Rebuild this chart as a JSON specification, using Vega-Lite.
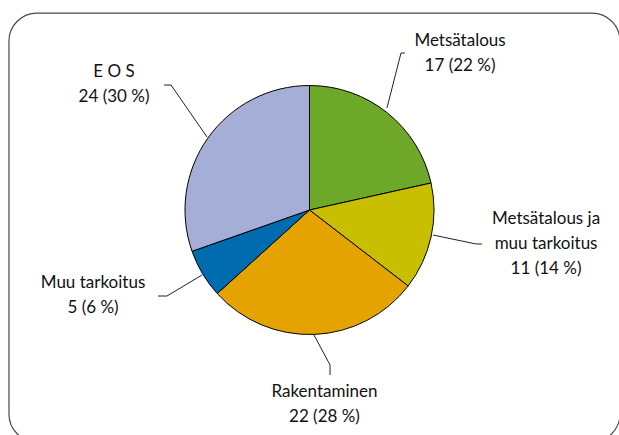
{
  "$schema": "https://vega.github.io/schema/vega-lite/v6.json",
  "width": 619,
  "height": 420,
  "autosize": "none",
  "padding": {"left": 0, "top": 0, "right": 0, "bottom": 15},
  "background": "white",
  "view": {"stroke": null},
  "config": {"font": "Lato"},
  "datasets": {
    "slices": [
      {"cat": "Metsätalous", "n": 17, "ord": 1},
      {"cat": "Metsätalous ja muu tarkoitus", "n": 11, "ord": 2},
      {"cat": "Rakentaminen", "n": 22, "ord": 3},
      {"cat": "Muu tarkoitus", "n": 5, "ord": 4},
      {"cat": "E O S", "n": 24, "ord": 5}
    ],
    "labels": [
      {"label": "Metsätalous\n17 (22 %)", "x": 1.209, "y": 1.357},
      {"label": "Metsätalous ja\nmuu tarkoitus\n11 (14 %)", "x": 1.9, "y": -0.072},
      {"label": "Rakentaminen\n22 (28 %)", "x": 0.12, "y": -1.462},
      {"label": "Muu tarkoitus\n5 (6 %)", "x": -1.739, "y": -0.586},
      {"label": "E O S\n24 (30 %)", "x": -1.57, "y": 1.108}
    ],
    "leaders": [
      {"g": "a", "i": 1, "x": 0.767, "y": 1.261},
      {"g": "a", "i": 2, "x": 0.735, "y": 1.261},
      {"g": "a", "i": 3, "x": 0.622, "y": 0.819},
      {"g": "b", "i": 1, "x": 0.992, "y": -0.201},
      {"g": "b", "i": 2, "x": 1.337, "y": -0.273},
      {"g": "b", "i": 3, "x": 1.386, "y": -0.273},
      {"g": "c", "i": 1, "x": 0.036, "y": -1.004},
      {"g": "c", "i": 2, "x": 0.165, "y": -1.245},
      {"g": "c", "i": 3, "x": 0.165, "y": -1.325},
      {"g": "d", "i": 1, "x": -0.863, "y": -0.522},
      {"g": "d", "i": 2, "x": -1.145, "y": -0.691},
      {"g": "d", "i": 3, "x": -1.217, "y": -0.691},
      {"g": "e", "i": 1, "x": -0.823, "y": 0.586},
      {"g": "e", "i": 2, "x": -1.112, "y": 1.004},
      {"g": "e", "i": 3, "x": -1.169, "y": 1.004}
    ],
    "frame": [
      {"x1": -2.414, "x2": 2.494, "y1": 1.582, "y2": -1.863}
    ]
  },
  "layer": [
    {
      "data": {"name": "frame"},
      "mark": {"type": "rect", "fill": null, "stroke": "#4a4a4a", "strokeWidth": 1.2, "cornerRadius": 28},
      "encoding": {
        "x": {"field": "x1", "type": "quantitative", "scale": {"domain": [-2.486, 2.486], "nice": false, "zero": false}, "axis": null},
        "x2": {"field": "x2"},
        "y": {"field": "y1", "type": "quantitative", "scale": {"domain": [-1.687, 1.687], "nice": false, "zero": false}, "axis": null},
        "y2": {"field": "y2"}
      }
    },
    {
      "data": {"name": "slices"},
      "mark": {"type": "arc", "outerRadius": 124.5, "stroke": "black", "strokeWidth": 1},
      "encoding": {
        "theta": {"field": "n", "type": "quantitative", "stack": true},
        "order": {"field": "ord", "type": "quantitative"},
        "color": {
          "field": "cat",
          "type": "nominal",
          "scale": {
            "domain": ["Metsätalous", "Metsätalous ja muu tarkoitus", "Rakentaminen", "Muu tarkoitus", "E O S"],
            "range": ["#6ea828", "#c8bf00", "#e5a300", "#006cb0", "#a5aed6"]
          },
          "legend": null
        }
      }
    },
    {
      "data": {"name": "leaders"},
      "mark": {"type": "line", "stroke": "#222222", "strokeWidth": 1},
      "encoding": {
        "x": {"field": "x", "type": "quantitative", "scale": {"domain": [-2.486, 2.486], "nice": false, "zero": false}, "axis": null},
        "y": {"field": "y", "type": "quantitative", "scale": {"domain": [-1.687, 1.687], "nice": false, "zero": false}, "axis": null},
        "detail": {"field": "g"},
        "order": {"field": "i", "type": "quantitative"}
      }
    },
    {
      "data": {"name": "labels"},
      "mark": {"type": "text", "fontSize": 17, "lineHeight": 25, "lineBreak": "\n", "align": "center", "baseline": "middle", "color": "#111111"},
      "encoding": {
        "x": {"field": "x", "type": "quantitative", "scale": {"domain": [-2.486, 2.486], "nice": false, "zero": false}, "axis": null},
        "y": {"field": "y", "type": "quantitative", "scale": {"domain": [-1.687, 1.687], "nice": false, "zero": false}, "axis": null},
        "text": {"field": "label", "type": "nominal"}
      }
    }
  ]
}
